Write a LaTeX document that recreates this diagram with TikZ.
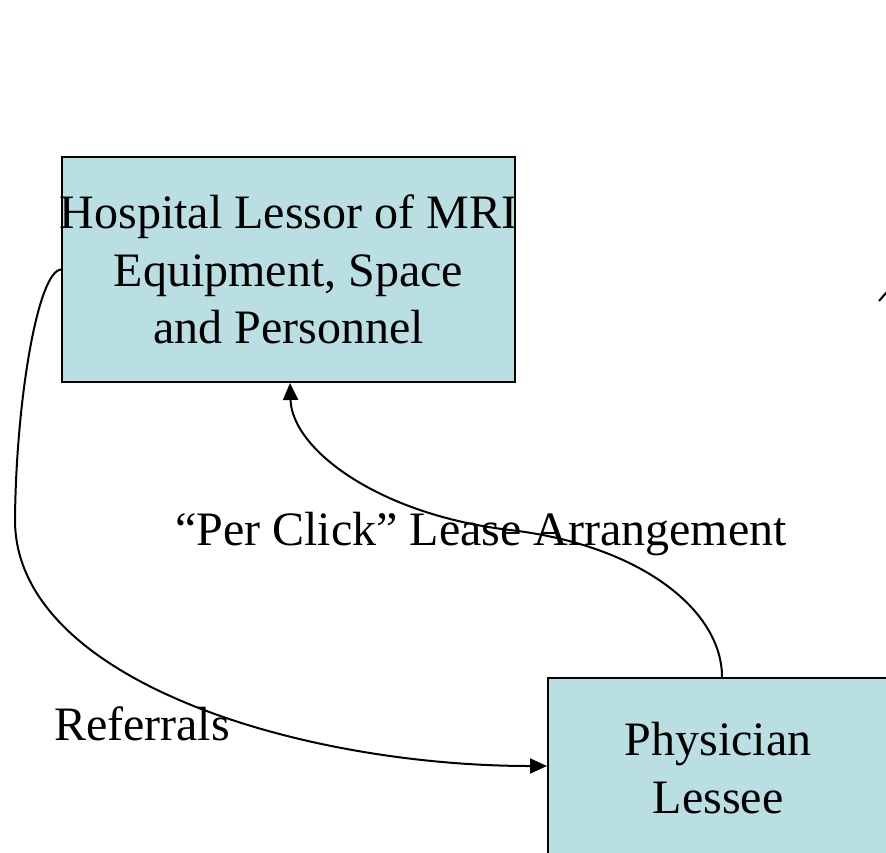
\documentclass[tikz,border=0pt]{standalone}
\usepackage{fontspec}
\setmainfont{Liberation Serif}
\usetikzlibrary{arrows.meta}
\definecolor{boxfill}{HTML}{B9DFE3}
\tikzset{
  party/.style={draw=black, line width=2pt, fill=boxfill, inner ysep=0pt,
    align=center, font=\fontsize{48}{57.5}\selectfont},
  caption/.style={inner sep=0pt, anchor=base, font=\fontsize{48}{57.5}\selectfont},
  flow/.style={draw=black, line width=2pt, -{Triangle[length=17pt,width=15pt]}}
}
\begin{document}
\begin{tikzpicture}[x=1pt, y=-1pt]
  \useasboundingbox (0,0) rectangle (886,852);
  \clip (0,0) rectangle (886,852);

  % the two parties
  \node[party, inner xsep=-2.5pt, minimum height=225pt] (hosp) at (288.5,269.5)
    {Hospital Lessor of MRI\\Equipment, Space\\and Personnel};
  \node[party, inner xsep=0pt, minimum width=340pt, minimum height=180pt] (phys) at (718,768)
    {Physician\\Lessee};

  % labels
  \node[caption] (lease) at (481,545) {“Per Click” Lease Arrangement};
  \node[caption] (refs) at (142,740) {Referrals};

  % referrals from the hospital to the physician
  \coordinate (bend) at (15,520);
  \draw[flow] (hosp.west) .. controls (38,270) and (16,400) .. (bend)
    .. controls (15,680) and (300,766) .. ([yshift=2pt]phys.west);

  % lease payments from the physician to the hospital
  \coordinate (mid) at (510,530);
  \draw[flow] ([xshift=4pt]phys.north) .. controls (722,610) and (640,545) .. (mid)
    .. controls (380,515) and (292,450) .. ([xshift=1.5pt]hosp.south);

  % stub of a further connector at the edge
  \coordinate (stubA) at (879,301);
  \coordinate (stubB) at (892,286);
  \draw[line width=2pt] (stubA) -- (stubB);
\end{tikzpicture}
\end{document}
